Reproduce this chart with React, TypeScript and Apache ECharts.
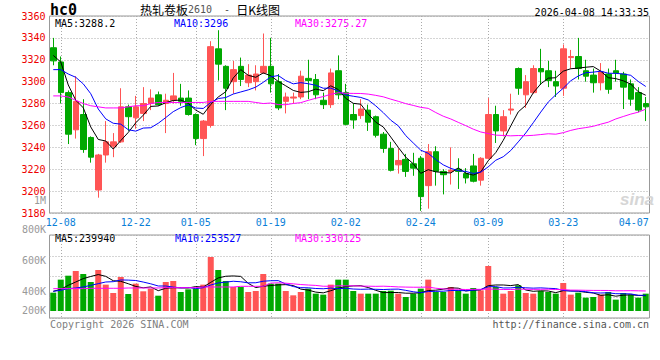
import React, { useEffect, useRef } from 'react';
import * as echarts from 'echarts';

// ---------- data ----------
const dates = [
  '12-05', '12-08', '12-09', '12-10', '12-11', '12-12', '12-15', '12-16', '12-17', '12-18', '12-19',
  '12-22', '12-23', '12-24', '12-25', '12-26', '12-29', '12-30', '12-31',
  '01-05', '01-06', '01-07', '01-08', '01-09', '01-12', '01-13', '01-14', '01-15', '01-16',
  '01-19', '01-20', '01-21', '01-22', '01-23', '01-26', '01-27', '01-28', '01-29', '01-30',
  '02-02', '02-03', '02-04', '02-05', '02-06', '02-09', '02-10', '02-11', '02-12', '02-13',
  '02-24', '02-25', '02-26', '02-27',
  '03-02', '03-03', '03-04', '03-05', '03-06', '03-09', '03-10', '03-11', '03-12', '03-13',
  '03-16', '03-17', '03-18', '03-19', '03-20', '03-23', '03-24', '03-25', '03-26', '03-27',
  '03-30', '03-31', '04-01', '04-02', '04-03', '04-07', '04-08',
];

const openP = [
  3331, 3318, 3290, 3256, 3270, 3249, 3201, 3233, 3241, 3245,
  3277, 3267, 3271, 3280, 3288, 3280, 3283, 3285, 3285, 3270,
  3248, 3260, 3330, 3314, 3300, 3314, 3299, 3300, 3308, 3314,
  3300, 3282, 3285, 3286, 3303, 3302, 3283, 3279, 3310, 3290,
  3270, 3269, 3274, 3268, 3252, 3239, 3224, 3229, 3225, 3230,
  3205, 3236, 3218, 3218, 3220, 3216, 3223, 3210, 3230, 3270,
  3255, 3274, 3312, 3288, 3290, 3312, 3310, 3300, 3294, 3322,
  3323, 3310, 3306, 3299, 3307, 3310, 3307, 3298, 3290, 3280,
];
const closeP = [
  3319, 3290, 3252, 3282, 3238, 3231, 3233, 3245, 3245, 3277,
  3268, 3277, 3280, 3285, 3279, 3283, 3287, 3282, 3270, 3248,
  3264, 3332, 3316, 3294, 3311, 3302, 3306, 3307, 3314, 3298,
  3276, 3286, 3286, 3305, 3301, 3288, 3279, 3308, 3288, 3261,
  3265, 3275, 3263, 3251, 3239, 3219, 3228, 3218, 3221, 3195,
  3236, 3218, 3215, 3219, 3218, 3212, 3209, 3230, 3270, 3255,
  3268, 3275, 3294, 3300, 3312, 3309, 3301, 3296, 3330, 3323,
  3312, 3305, 3299, 3309, 3293, 3308, 3295, 3284, 3274, 3277,
];
const highP = [
  3340, 3323, 3292, 3305, 3284, 3250, 3234, 3264, 3253, 3294,
  3279, 3287, 3295, 3293, 3291, 3289, 3308, 3298, 3292, 3271,
  3265, 3337, 3347, 3315, 3319, 3322, 3316, 3315, 3344, 3340,
  3307, 3290, 3290, 3310, 3320, 3307, 3290, 3312, 3324, 3298,
  3280, 3284, 3279, 3269, 3254, 3245, 3239, 3234, 3235, 3232,
  3243, 3241, 3220, 3240, 3230, 3221, 3234, 3231, 3285, 3278,
  3274, 3289, 3313, 3306, 3315, 3330, 3319, 3310, 3334, 3329,
  3340, 3320, 3312, 3317, 3312, 3320, 3309, 3302, 3295, 3286,
];
const lowP = [
  3315, 3280, 3243, 3248, 3235, 3226, 3194, 3226, 3231, 3244,
  3255, 3257, 3264, 3274, 3278, 3253, 3280, 3278, 3269, 3242,
  3232, 3258, 3301, 3274, 3289, 3296, 3295, 3292, 3307, 3290,
  3274, 3271, 3280, 3284, 3284, 3284, 3275, 3276, 3284, 3260,
  3257, 3266, 3255, 3249, 3235, 3218, 3216, 3213, 3214, 3182,
  3184, 3205, 3197, 3206, 3202, 3207, 3208, 3205, 3229, 3244,
  3250, 3270, 3288, 3276, 3289, 3297, 3295, 3286, 3287, 3312,
  3302, 3300, 3290, 3292, 3289, 3300, 3275, 3278, 3272, 3264,
];

const volume = [
  297000, 508000, 572000, 648000, 599000, 470000, 664000, 427000, 292000, 551000,
  275000, 443000, 319000, 362000, 248000, 470000, 486000, 308000, 351000, 362000,
  427000, 875000, 664000, 486000, 389000, 389000, 308000, 324000, 599000, 443000,
  443000, 324000, 254000, 308000, 362000, 281000, 265000, 427000, 508000, 508000,
  324000, 281000, 281000, 281000, 324000, 329000, 281000, 227000, 281000, 362000,
  508000, 308000, 308000, 389000, 335000, 281000, 373000, 335000, 729000, 389000,
  281000, 324000, 416000, 292000, 281000, 324000, 308000, 281000, 454000, 265000,
  297000, 216000, 227000, 265000, 308000, 184000, 292000, 265000, 216000, 281000,
];

// moving-average values before the window is full
const priceMa5Head = [3324, 3318, 3297, 3283];
const priceMa10Head = [3311, 3311, 3307, 3304, 3298, 3289, 3275, 3266, 3262];
const priceMa30Head = [
  3287, 3287, 3286, 3283, 3280, 3278, 3277, 3276, 3276, 3276,
  3277, 3278, 3278, 3280, 3281, 3281, 3281, 3281, 3281, 3281,
  3281, 3282, 3282, 3282, 3282, 3282, 3282, 3281, 3280,
];
const volMa5Head = [319000, 351000, 416000, 470000];
const volMa10Head = [319000, 335000, 362000, 373000, 389000, 416000, 443000, 470000, 475000];
const volMa30Head = [
  362000, 362000, 362000, 362000, 362000, 368000, 368000, 368000, 368000, 368000,
  373000, 373000, 373000, 373000, 373000, 378000, 378000, 378000, 378000, 378000,
  389000, 389000, 389000, 389000, 389000, 400000, 400000, 400000, 400000,
];

const priceTicks = { min: 3180, max: 3360, step: 20 };
const labelDates = ['12-08', '12-22', '01-05', '01-19', '02-02', '02-24', '03-09', '03-23', '04-07'];
const gridDates = ['12-08', '12-22', '01-05', '01-19', '02-02', '02-24', '03-09', '03-23'];
const volTickLabels = ['1M', '800K', '600K', '400K', '200K'];

const titleText = { code: 'hc0', name: '热轧卷板', contract: '2610', suffix: '日K线图' };
const timestamp = '2026-04-08 14:33:35';
const priceMaText = ['MA5:3288.2', 'MA10:3296', 'MA30:3275.27'];
const volMaText = ['MA5:239940', 'MA10:253527', 'MA30:330125'];
const copyright = 'Copyright 2026 SINA.COM';
const siteUrl = 'http://finance.sina.com.cn';

// ---------- helpers ----------
function movingAverage(values: number[], n: number, head: number[], digits: number) {
  return values.map((_, i) => {
    if (i < n - 1) return head[i];
    let s = 0;
    for (let k = i - n + 1; k <= i; k++) s += values[k];
    return +(s / n).toFixed(digits);
  });
}

const MONO = 'DejaVu Sans Mono';
const RED = '#ff5555';
const GREEN = '#00a800';
const MA_COLORS = ['#000000', '#0000ff', '#ff00ff'];
const GRID_LINE = { color: '#aaaaaa', type: [1, 2] as any, width: 1 };

function txt(x: number, y: number, text: string, fill: string, font: string, align = 'left') {
  return {
    type: 'text',
    x,
    y,
    silent: true,
    style: {
      text,
      fill,
      font,
      align,
      textAlign: align,
      verticalAlign: 'middle',
      textVerticalAlign: 'middle',
    },
  };
}

export default function App() {
  const ref = useRef<HTMLDivElement>(null);

  useEffect(() => {
    const chart = echarts.init(ref.current!, null, { renderer: 'svg' });

    const candles = dates.map((_, i) => [openP[i], closeP[i], lowP[i], highP[i]]);
    const pMa5 = movingAverage(closeP, 5, priceMa5Head, 2);
    const pMa10 = movingAverage(closeP, 10, priceMa10Head, 2);
    const pMa30 = movingAverage(closeP, 30, priceMa30Head, 2);
    const vMa5 = movingAverage(volume, 5, volMa5Head, 0);
    const vMa10 = movingAverage(volume, 10, volMa10Head, 0);
    const vMa30 = movingAverage(volume, 30, volMa30Head, 0);

    const lineSeries = (data: number[], color: string, xi: number, yi: number) => ({
      type: 'line',
      data,
      xAxisIndex: xi,
      yAxisIndex: yi,
      showSymbol: false,
      symbol: 'none',
      silent: true,
      lineStyle: { color, width: 1 },
      itemStyle: { color },
      z: 3,
    });

    const xAxisBase = (gridIndex: number, showLabel: boolean) => ({
      type: 'category',
      gridIndex,
      data: dates,
      boundaryGap: true,
      axisLine: { show: false },
      axisTick: { show: false },
      axisLabel: {
        show: showLabel,
        interval: (_i: number, v: string) => labelDates.includes(v),
        color: '#0a7fd8',
        fontFamily: MONO,
        fontSize: 10,
        margin: 4,
        formatter: (v: string) => (v === labelDates[labelDates.length - 1] ? '{e|' + v + '}' : v),
        rich: {
          e: { color: '#0a7fd8', fontFamily: MONO, fontSize: 10, padding: [0, 9, 0, 0] },
        },
      },
      splitLine: {
        show: true,
        alignWithLabel: true,
        interval: (_i: number, v: string) => gridDates.includes(v),
        lineStyle: GRID_LINE,
      },
    });

    const volTickY = [200.7, 229.3, 260.3, 291, 310.3];

    const option: any = {
      animation: false,
      backgroundColor: '#ffffff',
      grid: [
        { left: 49.5, top: 16, width: 600, height: 197, show: true, borderColor: '#999999', borderWidth: 1, backgroundColor: 'transparent', outerBoundsMode: 'none' },
        { left: 49.5, top: 235, width: 600, height: 83, show: true, borderColor: '#999999', borderWidth: 1, backgroundColor: 'transparent', outerBoundsMode: 'none' },
      ],
      xAxis: [xAxisBase(0, true), xAxisBase(1, false)],
      yAxis: [
        {
          type: 'value',
          gridIndex: 0,
          min: priceTicks.min,
          max: priceTicks.max,
          interval: priceTicks.step,
          axisLine: { show: false },
          axisTick: { show: false },
          axisLabel: { color: '#ee0000', fontFamily: MONO, fontSize: 10, margin: 4, formatter: (v: number) => String(v) },
          splitLine: { show: true, lineStyle: GRID_LINE },
        },
        {
          type: 'value',
          gridIndex: 1,
          min: -113400,
          max: 1231200,
          show: false,
          splitLine: { show: false },
        },
        {
          type: 'value',
          gridIndex: 1,
          min: 0,
          max: 4,
          interval: 1,
          axisLine: { show: false },
          axisTick: { show: false },
          axisLabel: { show: false },
          splitLine: { show: true, lineStyle: GRID_LINE },
        },
      ],
      series: [
        {
          type: 'candlestick',
          xAxisIndex: 0,
          yAxisIndex: 0,
          data: candles,
          barWidth: 6,
          silent: true,
          itemStyle: { color: RED, color0: GREEN, borderColor: RED, borderColor0: GREEN, borderWidth: 1 },
        },
        lineSeries(pMa5, MA_COLORS[0], 0, 0),
        lineSeries(pMa10, MA_COLORS[1], 0, 0),
        lineSeries(pMa30, MA_COLORS[2], 0, 0),
        {
          type: 'bar',
          xAxisIndex: 1,
          yAxisIndex: 1,
          barWidth: 6,
          silent: true,
          data: volume.map((v, i) => ({ value: v, itemStyle: { color: closeP[i] > openP[i] ? RED : GREEN } })),
        },
        lineSeries(vMa5, MA_COLORS[0], 1, 1),
        lineSeries(vMa10, MA_COLORS[1], 1, 1),
        lineSeries(vMa30, MA_COLORS[2], 1, 1),
      ],
      graphic: [
        txt(50, 9.5, titleText.code, '#000000', 'bold 15px ' + MONO),
        {
          type: 'text',
          x: 140,
          y: 9.5,
          silent: true,
          style: {
            text: '{a|' + titleText.name + '}{b|' + titleText.contract + '  - }{a|' + titleText.suffix + '}',
            verticalAlign: 'middle',
            textVerticalAlign: 'middle',
            rich: {
              a: { fontFamily: 'Noto Sans CJK SC', fontSize: 12, fill: '#000000', color: '#000000' },
              b: { fontFamily: MONO, fontSize: 10, fill: '#555555', color: '#555555' },
            },
          },
        },
        txt(649, 12, timestamp, '#000000', '10px ' + MONO, 'right'),
        txt(55, 23.5, priceMaText[0], MA_COLORS[0], '10px ' + MONO),
        txt(174, 23.5, priceMaText[1], MA_COLORS[1], '10px ' + MONO),
        txt(295, 23.5, priceMaText[2], MA_COLORS[2], '10px ' + MONO),
        txt(55, 238.5, volMaText[0], MA_COLORS[0], '10px ' + MONO),
        txt(175, 238.5, volMaText[1], MA_COLORS[1], '10px ' + MONO),
        txt(295, 238.5, volMaText[2], MA_COLORS[2], '10px ' + MONO),
        ...volTickLabels.map((t, i) => txt(46, volTickY[i], t, '#999999', '10px ' + MONO, 'right')),
        txt(50, 324.5, copyright, '#808080', '10px ' + MONO),
        txt(649, 324.5, siteUrl, '#555555', '10px ' + MONO, 'right'),
        txt(620, 199, 'sina', '#d6d6d6', 'italic bold 17px Liberation Sans'),
      ],
    };

    chart.setOption(option);
    return () => chart.dispose();
  }, []);

  return (
    <div
      ref={ref}
      style={{ position: 'absolute', left: 0, top: 0, width: 660, height: 360, background: '#fff' }}
    />
  );
}
